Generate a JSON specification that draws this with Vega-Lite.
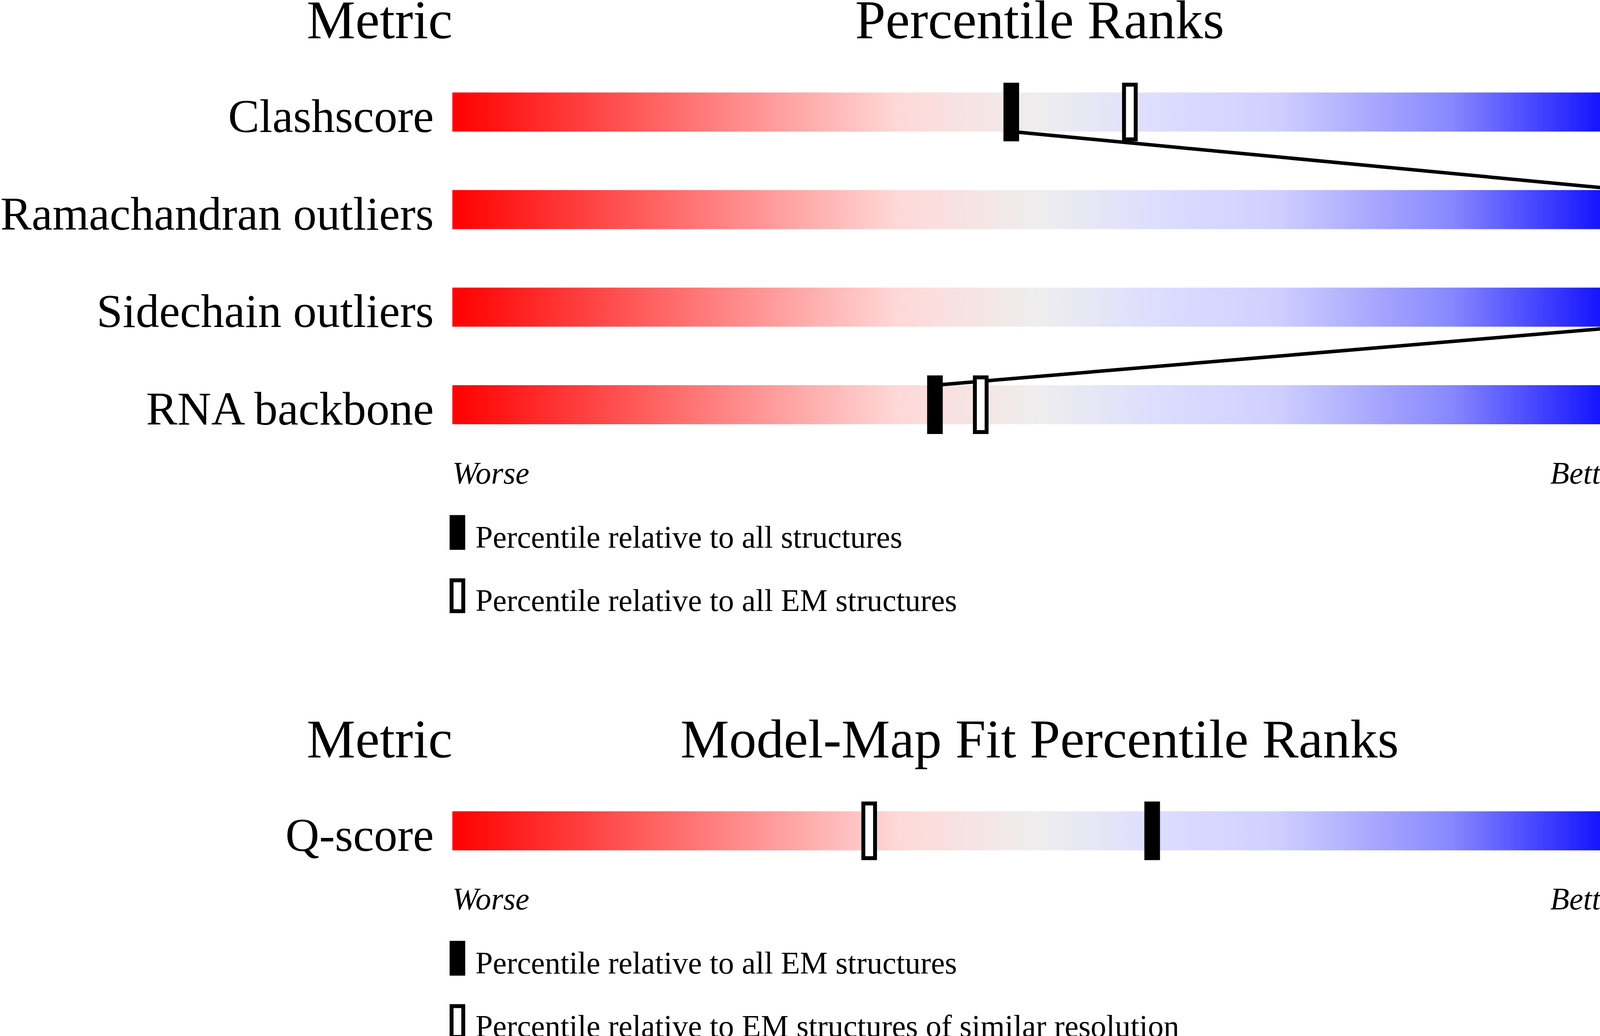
{
  "$schema": "https://vega.github.io/schema/vega-lite/v6.json",
  "width": 4485,
  "height": 2652,
  "autosize": {"type": "fit", "contains": "padding"},
  "padding": {"left": 0, "right": 0, "top": -15, "bottom": -15},
  "background": "white",
  "config": {
    "font": "Liberation Serif",
    "view": {"stroke": null},
    "axis": {"grid": false, "domain": false, "ticks": false, "tickSize": 0, "labelColor": "black", "titleColor": "black", "titleFontWeight": "normal", "titleFont": "Liberation Serif", "labelFont": "Liberation Serif"},
    "legend": {"labelFont": "Liberation Serif", "labelColor": "black"}
  },
  "datasets": {
    "metrics1": [
      {"metric": "Clashscore", "value": "6"},
      {"metric": "Ramachandran outliers", "value": "0.0%"},
      {"metric": "Sidechain outliers", "value": "0.0%"},
      {"metric": "RNA backbone", "value": "0.47"}
    ],
    "links1": [
      {"from": "Clashscore", "to": "Ramachandran outliers", "fromPct": 47.6, "toPct": 100},
      {"from": "Ramachandran outliers", "to": "Sidechain outliers", "fromPct": 100, "toPct": 100},
      {"from": "Sidechain outliers", "to": "RNA backbone", "fromPct": 100, "toPct": 41.1}
    ],
    "markers1": [
      {"metric": "Clashscore", "kind": "Percentile relative to all EM structures", "pct": 57.7},
      {"metric": "RNA backbone", "kind": "Percentile relative to all EM structures", "pct": 45.0},
      {"metric": "Clashscore", "kind": "Percentile relative to all structures", "pct": 47.6},
      {"metric": "Ramachandran outliers", "kind": "Percentile relative to all structures", "pct": 100},
      {"metric": "Sidechain outliers", "kind": "Percentile relative to all structures", "pct": 100},
      {"metric": "RNA backbone", "kind": "Percentile relative to all structures", "pct": 41.1}
    ],
    "metrics2": [
      {"metric": "Q-score", "value": "0.471"}
    ],
    "markers2": [
      {"metric": "Q-score", "kind": "Percentile relative to EM structures of similar resolution", "pct": 35.5},
      {"metric": "Q-score", "kind": "Percentile relative to all EM structures", "pct": 59.6}
    ],
    "ends": [
      {"label": "Worse", "pct": 0},
      {"label": "Better", "pct": 100}
    ]
  },
  "resolve": {
    "scale": {"y": "independent", "color": "independent"},
    "axis": {"x": "independent", "y": "independent"},
    "legend": {"color": "independent"}
  },
  "layer": [
    {
      "resolve": {"axis": {"x": "independent", "y": "independent"}},
      "layer": [
        {
          "data": {"name": "metrics1"},
          "mark": {"type": "bar", "height": 100, "color": {"gradient": "linear", "x1": 0, "y1": 0, "x2": 1, "y2": 0, "stops": [{"offset": 0, "color": "#ff0000"}, {"offset": 0.38, "color": "#ffd8d8"}, {"offset": 0.5, "color": "#eeeeee"}, {"offset": 0.6, "color": "#ddddff"}, {"offset": 0.7, "color": "#d0d0ff"}, {"offset": 0.85, "color": "#8888ff"}, {"offset": 1, "color": "#0000ff"}]}},
          "encoding": {
            "y": {"field": "metric", "type": "nominal", "scale": {"domain": ["Clashscore", "Ramachandran outliers", "Sidechain outliers", "RNA backbone"], "paddingInner": 0, "paddingOuter": 0, "range": [0, 998.8]}, "axis": {"orient": "left", "title": "Metric", "titleAngle": 0, "titleAlign": "right", "titleBaseline": "alphabetic", "titleX": 0, "titleY": -65, "titleFontSize": 140, "labelFontSize": 120, "labelPadding": 48, "labelBaseline": "alphabetic", "labelOffset": 51, "labelLimit": 0}},
            "x": {"datum": 0, "type": "quantitative", "scale": {"domain": [0, 100], "nice": false, "zero": false}, "axis": null},
            "x2": {"datum": 100}
          }
        },
        {
          "data": {"name": "links1"},
          "mark": {"type": "rule", "color": "black", "strokeWidth": 9, "yOffset": 50, "y2Offset": -50},
          "encoding": {
            "x": {"field": "fromPct", "type": "quantitative", "axis": null},
            "x2": {"field": "toPct"},
            "y": {"field": "from", "type": "nominal", "axis": null},
            "y2": {"field": "to"}
          }
        },
        {
          "data": {"name": "markers1"},
          "mark": {"type": "tick", "thickness": 30, "size": 140, "stroke": "black", "strokeWidth": 10, "opacity": 1},
          "encoding": {
            "x": {"field": "pct", "type": "quantitative", "axis": {"orient": "top", "title": "Percentile Ranks", "labels": false, "titleFontSize": 140, "titleBaseline": "alphabetic", "titleY": -65}},
            "y": {"field": "metric", "type": "nominal", "axis": null},
            "color": {"field": "kind", "type": "nominal", "scale": {"domain": ["Percentile relative to all structures", "Percentile relative to all EM structures"], "range": ["black", "white"]}, "legend": {"orient": "none", "legendX": -32, "legendY": 1171, "direction": "vertical", "title": null, "symbolType": "M-0.375,-1.3625H0.375V0.6125H-0.375Z", "symbolSize": 6400, "symbolStrokeColor": "black", "symbolStrokeWidth": 10, "symbolOpacity": 1, "labelFontSize": 80, "labelOffset": 1, "rowPadding": 42, "padding": 0, "labelLimit": 0}}
          }
        },
        {
          "data": {"name": "metrics1"},
          "mark": {"type": "text", "align": "left", "baseline": "alphabetic", "dx": 51, "dy": 51, "fontSize": 120, "color": "black"},
          "encoding": {
            "x": {"datum": 100, "type": "quantitative", "axis": null},
            "y": {"field": "metric", "type": "nominal", "axis": {"orient": "right", "title": "Value", "labels": false, "titleAngle": 0, "titleAlign": "left", "titleBaseline": "alphabetic", "titleX": 0, "titleY": -65, "titleFontSize": 140}},
            "text": {"field": "value"}
          }
        },
        {
          "data": {"name": "ends"},
          "transform": [{"filter": "datum.label == 'Worse'"}],
          "mark": {"type": "text", "align": "left", "baseline": "alphabetic", "dy": 202, "fontSize": 80, "fontStyle": "italic", "color": "black"},
          "encoding": {
            "x": {"field": "pct", "type": "quantitative", "axis": null},
            "y": {"datum": "RNA backbone", "type": "nominal", "axis": null},
            "text": {"field": "label"}
          }
        },
        {
          "data": {"name": "ends"},
          "transform": [{"filter": "datum.label == 'Better'"}],
          "mark": {"type": "text", "align": "right", "baseline": "alphabetic", "dy": 202, "fontSize": 80, "fontStyle": "italic", "color": "black"},
          "encoding": {
            "x": {"field": "pct", "type": "quantitative", "axis": null},
            "y": {"datum": "RNA backbone", "type": "nominal", "axis": null},
            "text": {"field": "label"}
          }
        }
      ]
    },
    {
      "resolve": {"axis": {"x": "independent", "y": "independent"}},
      "layer": [
        {
          "data": {"name": "metrics2"},
          "mark": {"type": "bar", "height": 100, "color": {"gradient": "linear", "x1": 0, "y1": 0, "x2": 1, "y2": 0, "stops": [{"offset": 0, "color": "#ff0000"}, {"offset": 0.38, "color": "#ffd8d8"}, {"offset": 0.5, "color": "#eeeeee"}, {"offset": 0.6, "color": "#ddddff"}, {"offset": 0.7, "color": "#d0d0ff"}, {"offset": 0.85, "color": "#8888ff"}, {"offset": 1, "color": "#0000ff"}]}},
          "encoding": {
            "y": {"field": "metric", "type": "nominal", "scale": {"domain": ["Q-score"], "paddingInner": 0, "paddingOuter": 0, "range": [1840, 2089.7]}, "axis": {"orient": "left", "title": "Metric", "titleAngle": 0, "titleAlign": "right", "titleBaseline": "alphabetic", "titleX": 0, "titleY": 1776, "titleFontSize": 140, "labelFontSize": 120, "labelPadding": 48, "labelBaseline": "alphabetic", "labelOffset": 51, "labelLimit": 0}},
            "x": {"datum": 0, "type": "quantitative", "scale": {"domain": [0, 100], "nice": false, "zero": false}, "axis": null},
            "x2": {"datum": 100}
          }
        },
        {
          "data": {"name": "markers2"},
          "mark": {"type": "tick", "thickness": 30, "size": 140, "stroke": "black", "strokeWidth": 10, "opacity": 1},
          "encoding": {
            "x": {"field": "pct", "type": "quantitative", "axis": {"orient": "top", "title": "Model-Map Fit Percentile Ranks", "labels": false, "titleFontSize": 140, "titleBaseline": "alphabetic", "titleY": 1776}},
            "y": {"field": "metric", "type": "nominal", "axis": null},
            "color": {"field": "kind", "type": "nominal", "scale": {"domain": ["Percentile relative to all EM structures", "Percentile relative to EM structures of similar resolution"], "range": ["black", "white"]}, "legend": {"orient": "none", "legendX": -32, "legendY": 2261, "direction": "vertical", "title": null, "symbolType": "M-0.375,-1.3625H0.375V0.6125H-0.375Z", "symbolSize": 6400, "symbolStrokeColor": "black", "symbolStrokeWidth": 10, "symbolOpacity": 1, "labelFontSize": 80, "labelOffset": 1, "rowPadding": 42, "padding": 0, "labelLimit": 0}}
          }
        },
        {
          "data": {"name": "metrics2"},
          "mark": {"type": "text", "align": "left", "baseline": "alphabetic", "dx": 51, "dy": 51, "fontSize": 120, "color": "black"},
          "encoding": {
            "x": {"datum": 100, "type": "quantitative", "axis": null},
            "y": {"field": "metric", "type": "nominal", "axis": {"orient": "right", "title": "Value", "labels": false, "titleAngle": 0, "titleAlign": "left", "titleBaseline": "alphabetic", "titleX": 0, "titleY": 1776, "titleFontSize": 140}},
            "text": {"field": "value"}
          }
        },
        {
          "data": {"name": "ends"},
          "transform": [{"filter": "datum.label == 'Worse'"}],
          "mark": {"type": "text", "align": "left", "baseline": "alphabetic", "dy": 201, "fontSize": 80, "fontStyle": "italic", "color": "black"},
          "encoding": {
            "x": {"field": "pct", "type": "quantitative", "axis": null},
            "y": {"datum": "Q-score", "type": "nominal", "axis": null},
            "text": {"field": "label"}
          }
        },
        {
          "data": {"name": "ends"},
          "transform": [{"filter": "datum.label == 'Better'"}],
          "mark": {"type": "text", "align": "right", "baseline": "alphabetic", "dy": 201, "fontSize": 80, "fontStyle": "italic", "color": "black"},
          "encoding": {
            "x": {"field": "pct", "type": "quantitative", "axis": null},
            "y": {"datum": "Q-score", "type": "nominal", "axis": null},
            "text": {"field": "label"}
          }
        }
      ]
    }
  ]
}
